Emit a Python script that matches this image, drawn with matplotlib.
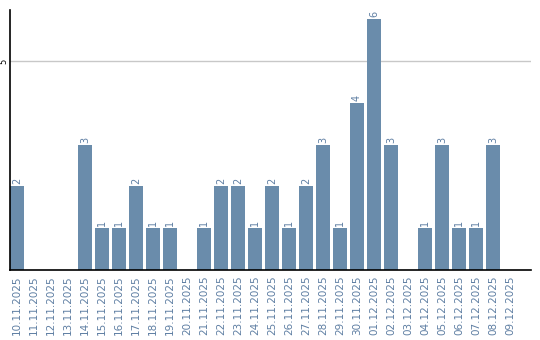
import matplotlib
matplotlib.use("Agg")
import matplotlib.pyplot as plt

dates = ["10.11.2025", "11.11.2025", "12.11.2025", "13.11.2025", "14.11.2025",
         "15.11.2025", "16.11.2025", "17.11.2025", "18.11.2025", "19.11.2025",
         "20.11.2025", "21.11.2025", "22.11.2025", "23.11.2025", "24.11.2025",
         "25.11.2025", "26.11.2025", "27.11.2025", "28.11.2025", "29.11.2025",
         "30.11.2025", "01.12.2025", "02.12.2025", "03.12.2025", "04.12.2025",
         "05.12.2025", "06.12.2025", "07.12.2025", "08.12.2025", "09.12.2025"]
counts = [2, 0, 0, 0, 3, 1, 1, 2, 1, 1,
          0, 1, 2, 2, 1, 2, 1, 2, 3, 1,
          4, 6, 3, 0, 1, 3, 1, 1, 3, 0]

bar_color = "#6a8cab"
label_color = "#5f7fa3"

fig = plt.figure(figsize=(5.4, 3.4), dpi=100)
ax = fig.add_axes([10 / 540, 70 / 340, 521 / 540, 260 / 340])

xs = list(range(len(dates)))
ax.bar(xs, counts, width=0.82, color=bar_color, zorder=2)

for x, v in zip(xs, counts):
    if v > 0:
        ax.text(x, v + 0.05, str(v), rotation=90, ha="center", va="bottom",
                fontsize=7, color=label_color)

ax.set_xlim(-0.41, 30.24)
ax.set_ylim(0, 6.22)
ax.set_xticks(xs)
ax.set_xticklabels(dates, rotation=90, fontsize=7.5, color=label_color)
ax.set_yticks([5])
ax.set_yticklabels(["5"], rotation=90, fontsize=6, va="center")
ax.tick_params(axis="x", length=0, pad=4)
ax.tick_params(axis="y", length=0, pad=1)
ax.grid(axis="y", color="#c8c8c8", linewidth=1, zorder=1)

for s in ["top", "right"]:
    ax.spines[s].set_visible(False)
ax.spines["left"].set_linewidth(1.2)
ax.spines["bottom"].set_linewidth(1.2)

fig.savefig("out.png", dpi=100)
